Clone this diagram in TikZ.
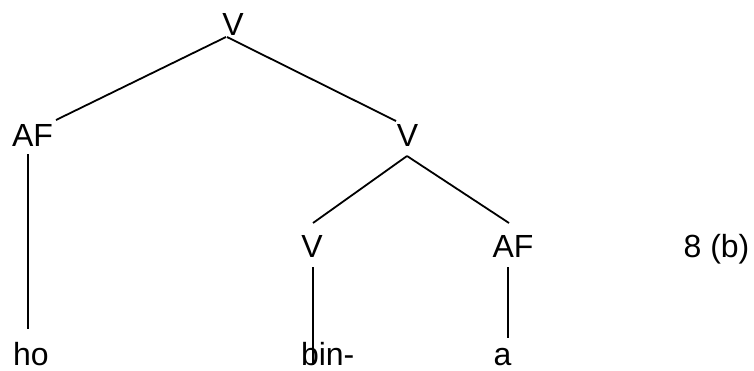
\documentclass[tikz,border=0pt]{standalone}
\usepackage{fontspec}
\setmainfont{Liberation Sans}
\usetikzlibrary{calc}
\begin{document}
\begin{tikzpicture}[x=1pt,y=-1pt,
  lbl/.style={inner sep=0pt,outer sep=0pt,anchor=base,font=\fontsize{32}{37}\selectfont},
  branch/.style={line width=1.8pt,line cap=butt}]
\useasboundingbox (0,0) rectangle (754,370);
% tree labels
\node[lbl] (v0)  at (233,35)   {V};
\node[lbl] (af1) at (32.5,146) {AF};
\node[lbl] (v1)  at (407.5,146){V};
\node[lbl] (v2)  at (312,257)  {V};
\node[lbl] (af2) at (513,257)  {AF};
\node[lbl] (num) at (716.5,257){8 (b)};
\node[lbl] (ho)  at (31,365)   {ho};
\node[lbl,anchor=base west] (bin) at (301,365) {bin-};
\node[lbl] (a)   at (502.5,365){a};
% branches
\draw[branch] ($(v0.base)+(-7,2)$) -- ($(af1.base)+(23.5,-26)$);
\draw[branch] ($(v0.base)+(-6,2)$) -- ($(v1.base)+(-11.5,-25)$);
\draw[branch] ($(v1.base)+(-0.5,10)$) -- ($(v2.base)+(1,-34)$);
\draw[branch] ($(v1.base)+(-0.5,10)$) -- ($(af2.base)+(-4,-34)$);
\draw[branch] ($(af1.base)+(-4.8,8)$) -- ($(ho.base)+(-3.3,-36)$);
\draw[branch] ($(v2.base)+(0.7,10)$) -- ($(bin.base west)+(11.7,0)$);
\draw[branch] ($(af2.base)+(-5.3,10)$) -- ($(a.base)+(5.2,-27)$);
\end{tikzpicture}
\end{document}
